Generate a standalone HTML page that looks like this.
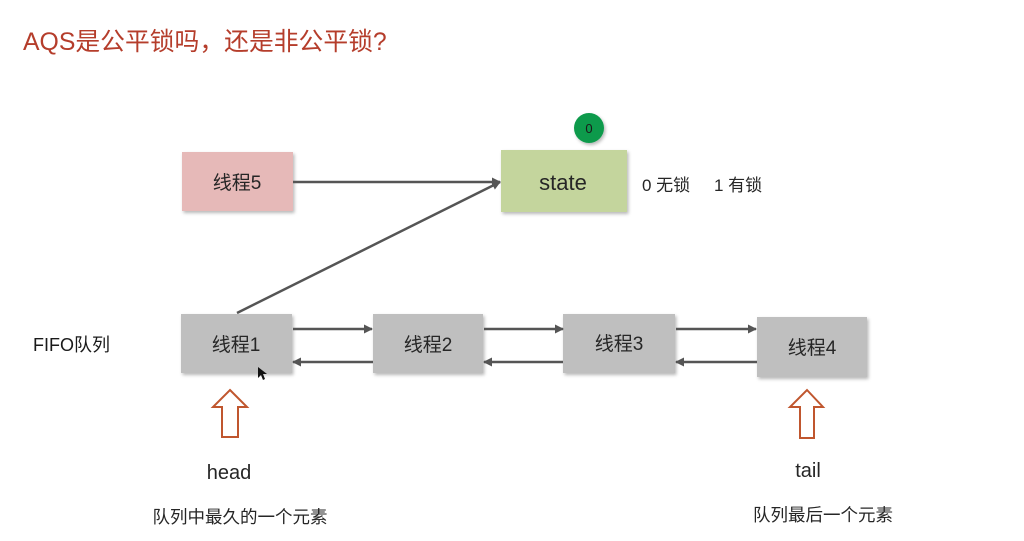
<!DOCTYPE html>
<html><head><meta charset="utf-8">
<style>
html,body{margin:0;padding:0;background:#fff;}
body{width:1024px;height:541px;overflow:hidden;position:relative;}
svg{position:absolute;left:0;top:0;}
text{font-family:"Liberation Sans","Noto Sans CJK SC",sans-serif;}
</style></head>
<body>
<svg width="1024" height="541" viewBox="0 0 1024 541" xmlns="http://www.w3.org/2000/svg">
<defs>
<marker id="ah" markerWidth="9" markerHeight="9" refX="8" refY="4.5" orient="auto" markerUnits="userSpaceOnUse">
<path d="M0,0 L9,4.5 L0,9 Z" fill="#555"/>
</marker>
<filter id="sh" x="-10%" y="-10%" width="130%" height="140%">
<feDropShadow dx="1.5" dy="2" stdDeviation="1.5" flood-color="#000" flood-opacity="0.28"/>
</filter>
</defs>

<!-- title -->
<text x="23" y="50" font-size="24.8" fill="#b53d2b">AQS是公平锁吗，还是非公平锁?</text>

<!-- thread5 -->
<rect x="182" y="152" width="111" height="59" fill="#e6b9b8" filter="url(#sh)"/>
<text x="237" y="189" font-size="19" fill="#262626" text-anchor="middle">线程5</text>

<!-- state -->
<rect x="501" y="150" width="126" height="62" fill="#c4d59d" filter="url(#sh)"/>
<text x="563" y="190" font-size="22" fill="#262626" text-anchor="middle">state</text>
<circle cx="589" cy="128" r="15" fill="#0a9a4c" filter="url(#sh)"/>
<text x="589" y="133" font-size="13" fill="#1a1a1a" text-anchor="middle">0</text>
<text x="642" y="191" font-size="17" fill="#262626">0 无锁</text>
<text x="714" y="191" font-size="17" fill="#262626">1 有锁</text>

<!-- arrows to state -->
<line x1="293" y1="182" x2="500" y2="182" stroke="#555" stroke-width="2.5" marker-end="url(#ah)"/>
<line x1="237" y1="313" x2="500" y2="182" stroke="#555" stroke-width="2.5" marker-end="url(#ah)"/>

<!-- FIFO label -->
<text x="33" y="351" font-size="18" fill="#1a1a1a">FIFO队列</text>

<!-- queue boxes -->
<rect x="181" y="314" width="111" height="59" fill="#bfbfbf" filter="url(#sh)"/>
<text x="236" y="351" font-size="19" fill="#262626" text-anchor="middle">线程1</text>
<rect x="373" y="314" width="110" height="59" fill="#bfbfbf" filter="url(#sh)"/>
<text x="428" y="351" font-size="19" fill="#262626" text-anchor="middle">线程2</text>
<rect x="563" y="314" width="112" height="59" fill="#bfbfbf" filter="url(#sh)"/>
<text x="619" y="350" font-size="19" fill="#262626" text-anchor="middle">线程3</text>
<rect x="757" y="317" width="110" height="60" fill="#bfbfbf" filter="url(#sh)"/>
<text x="812" y="354" font-size="19" fill="#262626" text-anchor="middle">线程4</text>

<!-- queue arrows -->
<line x1="293" y1="329" x2="372" y2="329" stroke="#555" stroke-width="2.5" marker-end="url(#ah)"/>
<line x1="373" y1="362" x2="293" y2="362" stroke="#555" stroke-width="2.5" marker-end="url(#ah)"/>
<line x1="484" y1="329" x2="563" y2="329" stroke="#555" stroke-width="2.5" marker-end="url(#ah)"/>
<line x1="563" y1="362" x2="484" y2="362" stroke="#555" stroke-width="2.5" marker-end="url(#ah)"/>
<line x1="676" y1="329" x2="756" y2="329" stroke="#555" stroke-width="2.5" marker-end="url(#ah)"/>
<line x1="757" y1="362" x2="676" y2="362" stroke="#555" stroke-width="2.5" marker-end="url(#ah)"/>

<!-- cursor -->
<path d="M258,367 L258,378 L261,375 L263,380 L265,379 L263,374 L267,374 Z" fill="#111"/>

<!-- head arrow -->
<path d="M230,390 L247,407 L238,407 L238,437 L222,437 L222,407 L213,407 Z" fill="#fff" stroke="#c0562e" stroke-width="2"/>
<text x="229" y="479" font-size="20" fill="#262626" text-anchor="middle">head</text>
<text x="240" y="523" font-size="17.5" fill="#262626" text-anchor="middle">队列中最久的一个元素</text>

<!-- tail arrow -->
<path d="M807,390 L823,407 L814,407 L814,438 L800,438 L800,407 L790,407 Z" fill="#fff" stroke="#c0562e" stroke-width="2"/>
<text x="808" y="477" font-size="20" fill="#262626" text-anchor="middle">tail</text>
<text x="823" y="521" font-size="17.5" fill="#262626" text-anchor="middle">队列最后一个元素</text>
</svg>
</body></html>
